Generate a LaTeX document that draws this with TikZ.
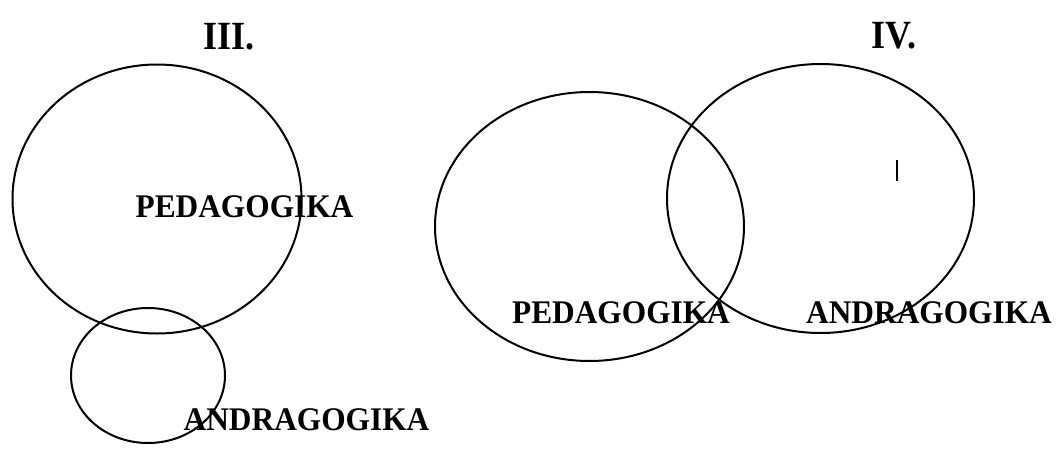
\documentclass[tikz,border=0pt]{standalone}
\usepackage{fontspec}
\setmainfont{Liberation Serif}
\newfontfamily\headfont{Liberation Serif}[FakeStretch=0.9]
\newfontfamily\namefont{Liberation Serif}[FakeStretch=0.95]
\usetikzlibrary{shapes.geometric}

\tikzset{
    set ring/.style = {
        ellipse,
        draw,
        line width=1pt,
        inner sep=0,
        outer sep=0,
    },
    heading/.style = {
        anchor=base,
        inner sep=0,
        font=\headfont\fontsize{20}{22}\selectfont\bfseries,
    },
    set name/.style = {
        anchor=base,
        inner sep=0,
        font=\namefont\fontsize{16.5}{18}\selectfont\bfseries,
    },
}

\begin{document}
\begin{tikzpicture}[x=0.5pt, y=-0.5pt]
    \useasboundingbox (0,0) rectangle (1056,450);

    % the sets (name/centre/width/height)
    \foreach \n/\cx/\cy/\w/\h in {
        pedIII/157/199/144.5/134.5,
        andIII/148/375.5/77/67.5,
        pedIV/589.5/226.5/154.5/134.5,
        andIV/820.5/198.5/153.5/134.5%
    } {
        \node[set ring, minimum width=\w pt, minimum height=\h pt] (\n) at (\cx,\cy) {};
    }

    % headings
    \node[heading] (headIII) at (229.5,49) {III.};
    \node[heading] (headIV) at (894,48) {IV.};

    % set names
    \node[set name] (txtPedIII) at (244.5,217) {PEDAGOGIKA};
    \node[set name] (txtAndIII) at (306.5,430) {ANDRAGOGIKA};
    \node[set name] (txtPedIV) at (621,323) {PEDAGOGIKA};
    \node[set name] (txtAndIV) at (929,323) {ANDRAGOGIKA};

    % stray mark
    \draw[line width=1.3pt] (897,160) -- (897,181);

\end{tikzpicture}
\end{document}
